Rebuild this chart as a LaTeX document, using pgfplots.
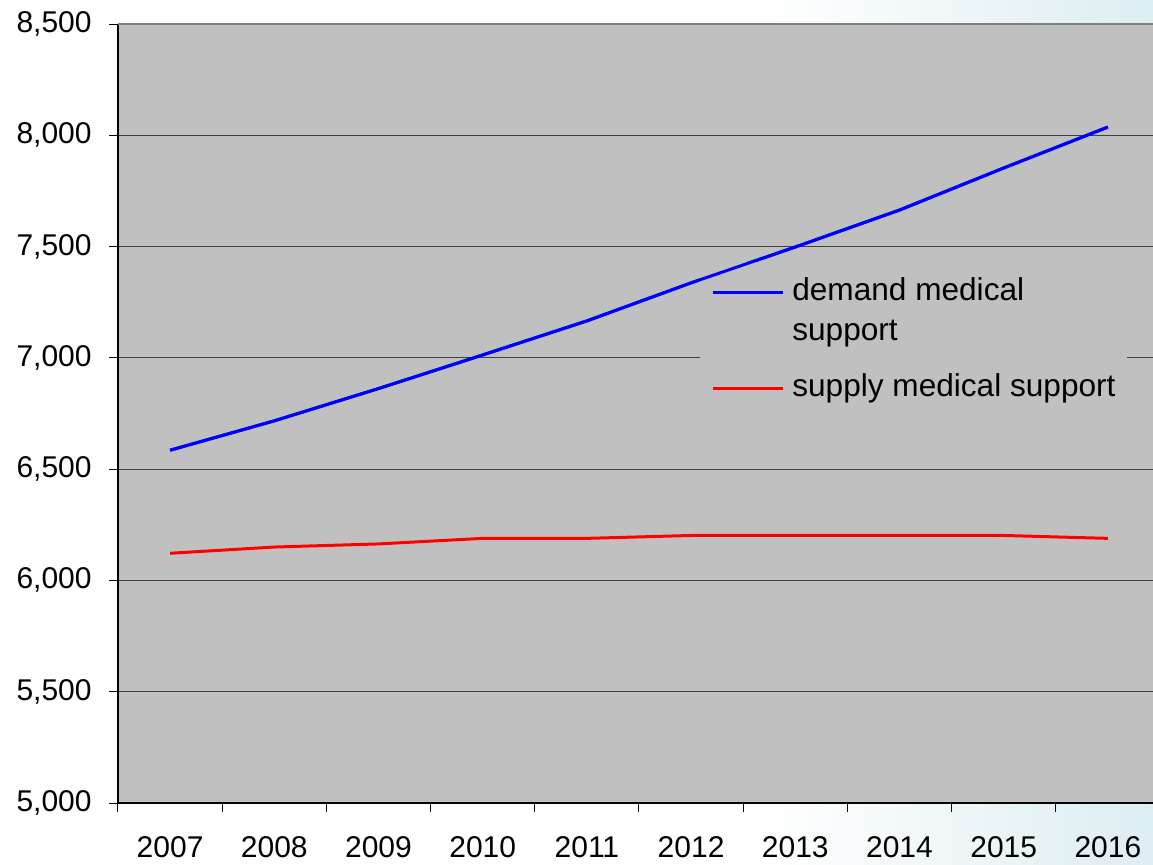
\documentclass[border=0pt]{standalone}
\usepackage{fontspec}
\setmainfont{Liberation Sans}
\usepackage{pgfplots}
\pgfplotsset{compat=1.18}
\definecolor{bggray}{HTML}{C0C0C0}
\definecolor{slideblue}{HTML}{DDEDF1}
\pgfplotsset{
  frame/.style={at={(59pt,30.5pt)}, anchor=south west,
    scale only axis, width=521pt, height=389.5pt,
    xmin=-0.5, xmax=9.5, ymin=5000, ymax=8500},
}
\begin{document}
\begin{tikzpicture}[x=1pt,y=1pt]
\fill[white] (0,0) rectangle (576.5,432);
\shade[left color=white, right color=slideblue] (380,0) rectangle (576.5,432);
\begin{axis}[
  frame,
  axis background/.style={fill=bggray},
  axis x line*=bottom, axis y line*=left,
  axis line style={black, line width=0.6pt},
  xtick={-0.5,0.5,1.5,2.5,3.5,4.5,5.5,6.5,7.5,8.5,9.5},
  xticklabels={2007,2008,2009,2010,2011,2012,2013,2014,2015,2016},
  x tick label as interval,
  ytick={5000,5500,6000,6500,7000,7500,8000,8500},
  tick align=outside,
  major tick length=4.5pt,
  tick style={black, line width=0.5pt},
  ymajorgrids,
  major grid style={black!75, line width=0.5pt},
  /pgf/number format/assume math mode=true,
  /pgf/number format/1000 sep={,},
  tick label style={font=\fontsize{15}{18}\selectfont},
  yticklabel style={anchor=east, inner sep=0pt, xshift=-8.5pt},
  xticklabel style={anchor=base, inner sep=0pt, yshift=-22.5pt},
  legend style={at={(0.5585,0.6945)}, anchor=north west, fill=bggray, draw=none,
    font=\fontsize{15.8}{19}\selectfont, inner xsep=5.5pt, inner ysep=4pt,
    row sep=0pt, column sep=4pt, nodes={inner sep=0pt, text depth={}, text height={}},
    cells={anchor=base west}},
  legend image code/.code={\draw[#1, line width=1.5pt] (0pt,4pt) -- (35pt,4pt);},
  after end axis/.code={\draw[black!50, line width=1pt] (rel axis cs:0,1) -- (rel axis cs:1,1);},
]
\addplot[blue, line width=1.5pt] coordinates {
  (0,6585) (1,6717) (2,6862) (3,7013) (4,7166) (5,7337) (6,7498) (7,7664) (8,7853) (9,8037)};
\addlegendentry{demand medical\rule[-5pt]{0pt}{20pt}}
\addlegendimage{empty legend}
\addlegendentry{support\rule[-13pt]{0pt}{28pt}}
\addplot[red, line width=1.5pt] coordinates {
  (0,6122) (1,6150) (2,6164) (3,6189) (4,6189) (5,6202) (6,6202) (7,6202) (8,6202) (9,6189)};
\addlegendentry{supply medical support\rule[-5pt]{0pt}{20pt}}
\end{axis}
\begin{axis}[frame, hide axis]
\addplot[blue, line width=1.5pt] coordinates {
  (0,6585) (1,6717) (2,6862) (3,7013) (4,7166) (5,7337) (6,7498) (7,7664) (8,7853) (9,8037)};
\end{axis}
\pgfresetboundingbox
\path (0,0) rectangle (576.5,432);
\end{tikzpicture}
\end{document}
